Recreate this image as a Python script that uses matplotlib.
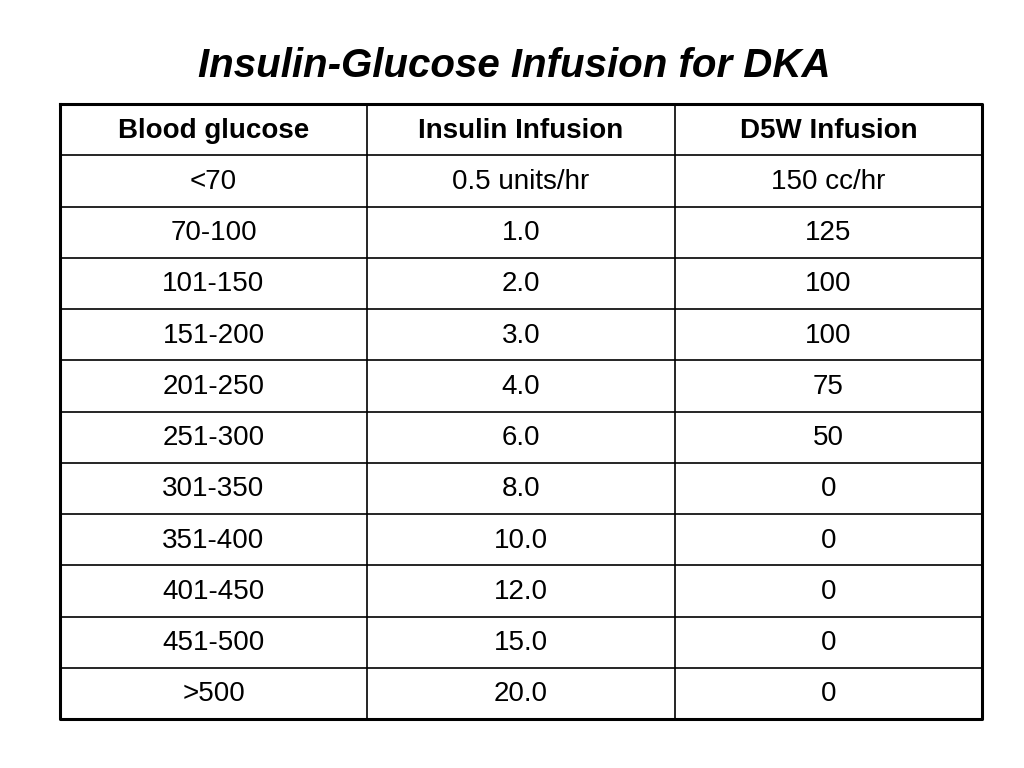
import matplotlib
matplotlib.use("Agg")
import matplotlib.pyplot as plt

title = "Insulin-Glucose Infusion for DKA"
headers = ["Blood glucose", "Insulin Infusion", "D5W Infusion"]
glucose = ["<70", "70-100", "101-150", "151-200", "201-250", "251-300",
           "301-350", "351-400", "401-450", "451-500", ">500"]
insulin = ["0.5 units/hr", "1.0", "2.0", "3.0", "4.0", "6.0", "8.0",
           "10.0", "12.0", "15.0", "20.0"]
d5w = ["150 cc/hr", "125", "100", "100", "75", "50", "0", "0", "0", "0", "0"]

fig = plt.figure(figsize=(10.24, 7.68), dpi=100)
ax = fig.add_axes([0, 0, 1, 1])
ax.set_xlim(0, 1024); ax.set_ylim(768, 0); ax.axis("off")
font = "Liberation Sans"

ax.text(514, 66, title, ha="center", va="center", fontsize=29,
        fontweight="bold", fontstyle="italic", family=font)

left, right, top, bottom = 60, 982, 104, 719
cols = [left, 367, 675, right]
nrows = len(glucose) + 1
rh = (bottom - top) / nrows
for i in range(1, nrows):
    y = top + i * rh
    ax.plot([left, right], [y, y], color="black", lw=1.2)
for x in cols[1:-1]:
    ax.plot([x, x], [top, bottom], color="black", lw=1.2)
ax.plot([left, right, right, left, left], [top, top, bottom, bottom, top],
        color="black", lw=2.2)

centers = [(cols[i] + cols[i + 1]) / 2 for i in range(3)]
for j, h in enumerate(headers):
    ax.text(centers[j], top + rh / 2 + 1, h, ha="center", va="center",
            fontsize=20, fontweight="bold", family=font)
for i, row in enumerate(zip(glucose, insulin, d5w)):
    y = top + (i + 1.5) * rh + 1
    for j, v in enumerate(row):
        ax.text(centers[j], y, v, ha="center", va="center", fontsize=20, family=font)

fig.savefig("out.png", dpi=100)
